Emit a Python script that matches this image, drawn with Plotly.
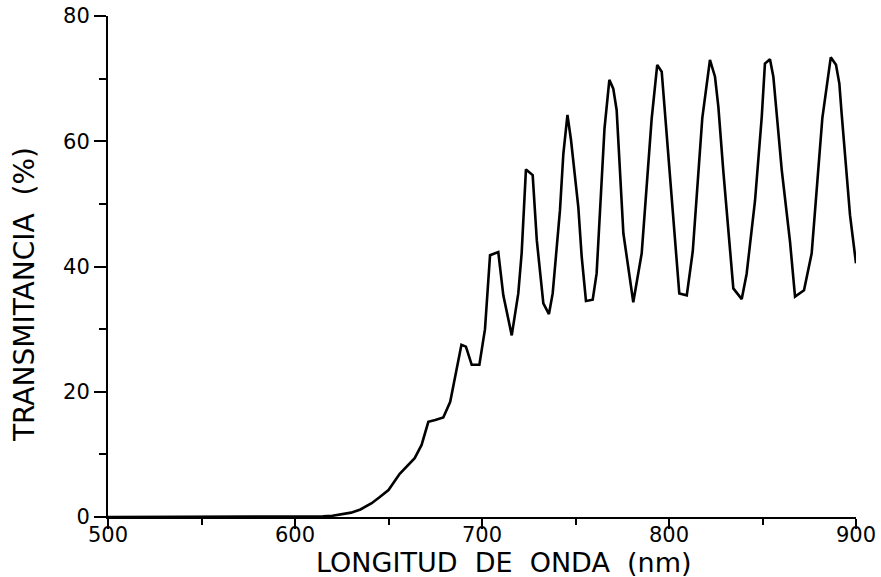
import plotly.graph_objects as go

# Wavelength (nm) and transmittance (%)
wavelength_nm = [
    500, 550, 600, 610, 615, 620, 625, 630, 635, 641, 645, 650, 656, 660, 664,
    667.7, 671.3, 675, 679.3, 683, 686, 689, 691.4, 694.5, 698.6, 701.6, 704.3,
    708.7, 711.4, 715.9, 719.4, 721.2, 723.5, 727.1, 729.3, 732.8, 735.8, 737.8,
    741.7, 743.5, 745.7, 747.6, 751.5, 753.3, 755.6, 759.2, 761.3, 765.5, 768.1,
    770.2, 772, 775.6, 780.9, 785.4, 790.7, 793.7, 796.1, 797.3, 802.3, 805.5,
    809.5, 812.7, 817.8, 821.9, 824.6, 826.4, 829, 834.4, 838.9, 841.5, 846,
    849.6, 851.3, 854, 855.8, 857.6, 860.3, 864.7, 867.4, 872.2, 876.3, 882,
    886.5, 889.3, 891.1, 892.3, 896.8, 900,
]
transmittance_pct = [
    0, 0, 0, 0.05, 0.1, 0.2, 0.4, 0.7, 1.2, 2.2, 3.1, 4.3, 6.9, 8.2, 9.4,
    11.5, 15.2, 15.5, 15.9, 18.4, 22.9, 27.5, 27.2, 24.3, 24.3, 30.0, 41.8,
    42.3, 35.4, 29.0, 35.7, 42.1, 55.5, 54.6, 44.2, 34.1, 32.4, 35.7,
    49.0, 58.0, 64.2, 60.2, 49.5, 41.6, 34.5, 34.7, 38.9, 62.0, 69.8,
    68.4, 65.0, 45.3, 34.3, 42.1, 63.5, 72.2, 71.1, 66.6, 47.4, 35.7,
    35.4, 42.4, 63.7, 73.0, 70.3, 65.5, 55.4, 36.5, 34.8, 38.8, 50.5,
    63.9, 72.4, 73.1, 70.3, 64.8, 55.4, 44.0, 35.2, 36.2, 42.1, 63.7,
    73.4, 72.2, 69.2, 64.5, 48.2, 40.5,
]

x_tick_values = [500, 600, 700, 800, 900]
y_tick_values = [0, 20, 40, 60, 80]
x_title = "LONGITUD\u00a0\u00a0DE\u00a0\u00a0ONDA\u00a0\u00a0(nm)"
y_title = "TRANSMITANCIA\u00a0\u00a0(%)"

fig = go.Figure()
fig.add_trace(go.Scatter(
    x=wavelength_nm, y=transmittance_pct, mode="lines",
    line=dict(color="black", width=2.6), showlegend=False, hoverinfo="skip",
    cliponaxis=False,
))

tick_font = dict(family="DejaVu Sans", size=21, color="black")

fig.update_layout(
    width=881, height=577,
    margin=dict(l=108, r=25, t=16, b=60, autoexpand=False),
    paper_bgcolor="white", plot_bgcolor="white",
    xaxis=dict(
        range=[500, 900], tickvals=x_tick_values, ticks="outside", ticklen=10,
        tickwidth=2, tickcolor="black", showline=True, linecolor="black",
        linewidth=2, showgrid=False, zeroline=False, tickfont=tick_font,
        automargin=False, ticklabelstandoff=-12,
        minor=dict(dtick=50, tick0=500, ticks="outside", ticklen=6,
                   tickwidth=2, tickcolor="black", showgrid=False),
    ),
    yaxis=dict(
        range=[0, 80], tickvals=y_tick_values, ticks="outside", ticklen=12,
        tickwidth=2, tickcolor="black", showline=True, linecolor="black",
        linewidth=2, showgrid=False, zeroline=False, tickfont=tick_font,
        automargin=False,
        minor=dict(dtick=10, tick0=0, ticks="outside", ticklen=7,
                   tickwidth=2, tickcolor="black", showgrid=False),
    ),
    annotations=[
        dict(text=x_title, xref="paper", yref="paper", x=0.5288, y=-0.091,
             xanchor="center", yanchor="middle", showarrow=False,
             font=dict(family="DejaVu Sans", size=27, color="black")),
        dict(text=y_title, xref="paper", yref="paper", x=-0.1123, y=0.445,
             xanchor="center", yanchor="middle", showarrow=False, textangle=-90,
             font=dict(family="DejaVu Sans", size=28, color="black")),
    ],
)

fig.write_html("out.html")
